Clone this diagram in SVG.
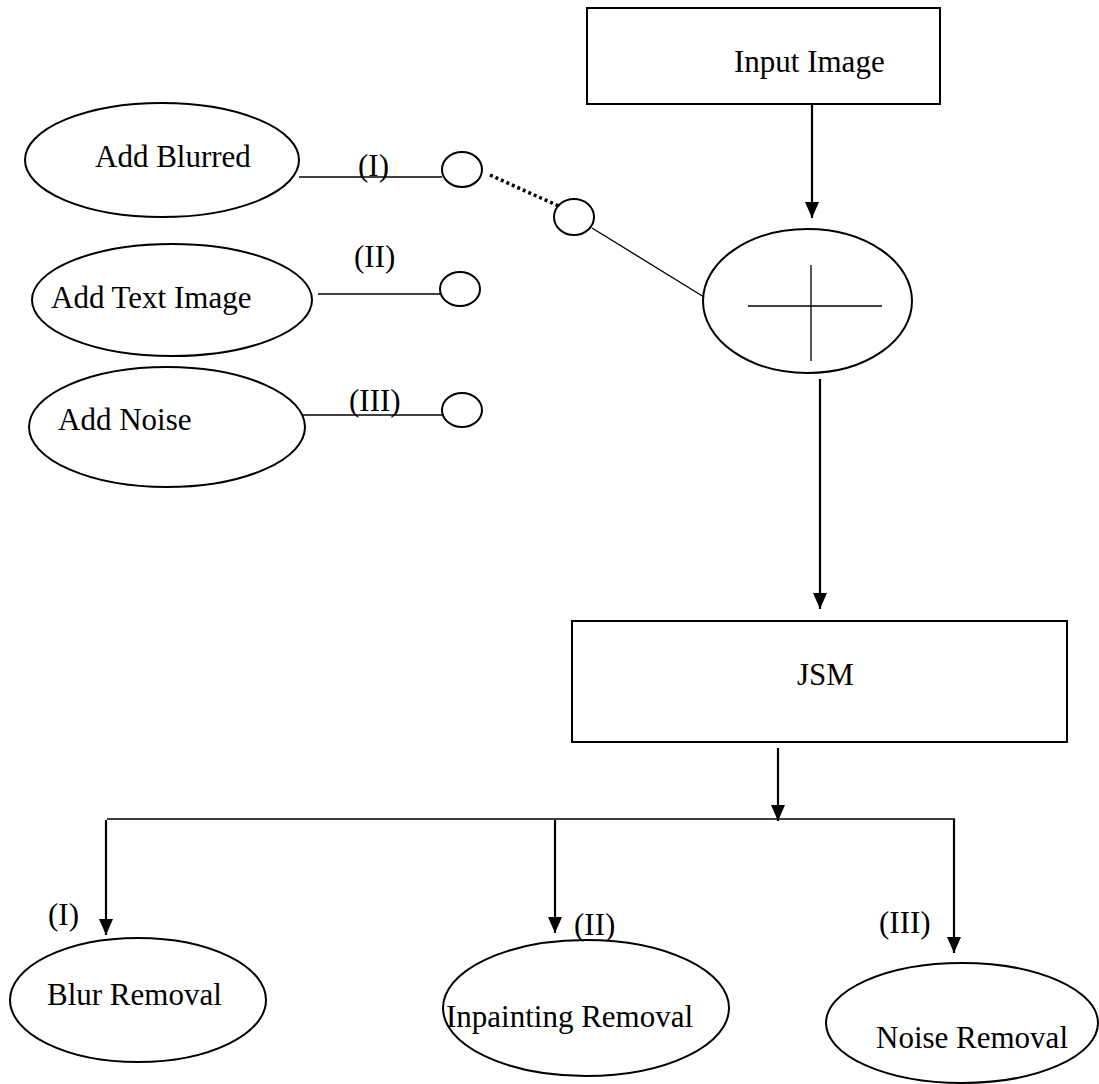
<svg xmlns="http://www.w3.org/2000/svg" width="1099" height="1084" viewBox="0 0 1099 1084">
<defs>
<style>
.n{fill:#fff;stroke:#000;stroke-width:2}
.t{font-family:"Liberation Serif","Times New Roman",serif;font-size:31px;fill:#000}
.thin{stroke:#000;stroke-width:1.3;fill:none}
.arr{stroke:#000;stroke-width:2.2;fill:none}
.dot{stroke:#000;stroke-width:3.5;stroke-dasharray:3 3;fill:none}
</style>
<marker id="ah" markerWidth="14" markerHeight="16" refX="7" refY="15" orient="auto-start-reverse" markerUnits="userSpaceOnUse" viewBox="0 0 14 16">
<path d="M0,0 L14,0 L7,16 Z" fill="#000" transform="rotate(-90 7 8) translate(0 0)"/>
</marker>
<marker id="a" markerWidth="16" markerHeight="14" refX="16" refY="7" orient="auto" markerUnits="userSpaceOnUse" viewBox="0 0 16 14">
<path d="M0,0 L16,7 L0,14 Z" fill="#000"/>
</marker>
</defs>
<rect width="1099" height="1084" fill="#fff"/>
<g id="connectors">
<line class="arr" x1="812" y1="104" x2="812" y2="218" marker-end="url(#a)"/>
<line class="thin" x1="299" y1="177" x2="442" y2="177"/>
<line class="dot" x1="490" y1="175" x2="563" y2="208"/>
<line class="thin" x1="592" y1="228" x2="704" y2="297"/>
<line class="thin" x1="318" y1="294" x2="440" y2="294"/>
<line class="thin" x1="302" y1="415" x2="442" y2="415"/>
<line class="arr" x1="820" y1="379" x2="820" y2="609" marker-end="url(#a)"/>
<line class="arr" x1="778" y1="748" x2="778" y2="821" marker-end="url(#a)"/>
<line class="thin" x1="107" y1="819" x2="955" y2="819"/>
<line class="arr" x1="106" y1="820" x2="106" y2="935" marker-end="url(#a)"/>
<line class="arr" x1="555" y1="820" x2="555" y2="933" marker-end="url(#a)"/>
<line class="arr" x1="954" y1="819" x2="954" y2="953" marker-end="url(#a)"/>
</g>
<g id="input-image">
<rect class="n" x="587" y="8" width="353" height="96"/>
<text class="t" x="734" y="72">Input Image</text>
</g>
<g id="add-blurred">
<ellipse class="n" cx="162" cy="160" rx="137" ry="57"/>
<text class="t" x="95" y="167">Add Blurred</text>
</g>
<g id="add-text-image">
<ellipse class="n" cx="172" cy="300" rx="140" ry="56"/>
<text class="t" x="51" y="308">Add Text Image</text>
</g>
<g id="add-noise">
<ellipse class="n" cx="167" cy="427" rx="138" ry="60"/>
<text class="t" x="58" y="430">Add Noise</text>
</g>
<g id="switch-1"><ellipse class="n" cx="462" cy="169.5" rx="20" ry="17.5"/></g>
<g id="switch-2"><ellipse class="n" cx="460" cy="289" rx="20" ry="17"/></g>
<g id="switch-3"><ellipse class="n" cx="462" cy="410" rx="20" ry="17"/></g>
<g id="switch-common"><ellipse class="n" cx="574" cy="217" rx="20" ry="18"/></g>
<g id="labels-in">
<text class="t" x="358" y="176">(I)</text>
<text class="t" x="354" y="267">(II)</text>
<text class="t" x="349" y="411">(III)</text>
</g>
<g id="adder">
<ellipse class="n" cx="807.5" cy="301" rx="104.5" ry="72"/>
<line class="thin" x1="748" y1="306" x2="882" y2="306"/>
<line class="thin" x1="811" y1="265" x2="811" y2="361"/>
</g>
<g id="jsm">
<rect class="n" x="572" y="621" width="495" height="121"/>
<text class="t" x="797" y="685">JSM</text>
</g>
<g id="blur-removal">
<ellipse class="n" cx="138" cy="1000" rx="128" ry="62"/>
<text class="t" x="47" y="1005">Blur Removal</text>
</g>
<g id="inpainting-removal">
<ellipse class="n" cx="586" cy="1008" rx="143" ry="68"/>
<text class="t" x="446" y="1027">Inpainting Removal</text>
</g>
<g id="noise-removal">
<ellipse class="n" cx="962" cy="1023" rx="136" ry="60"/>
<text class="t" x="876" y="1048">Noise Removal</text>
</g>
<g id="labels-out">
<text class="t" x="48" y="925">(I)</text>
<text class="t" x="574" y="935">(II)</text>
<text class="t" x="879" y="933">(III)</text>
</g>
</svg>
